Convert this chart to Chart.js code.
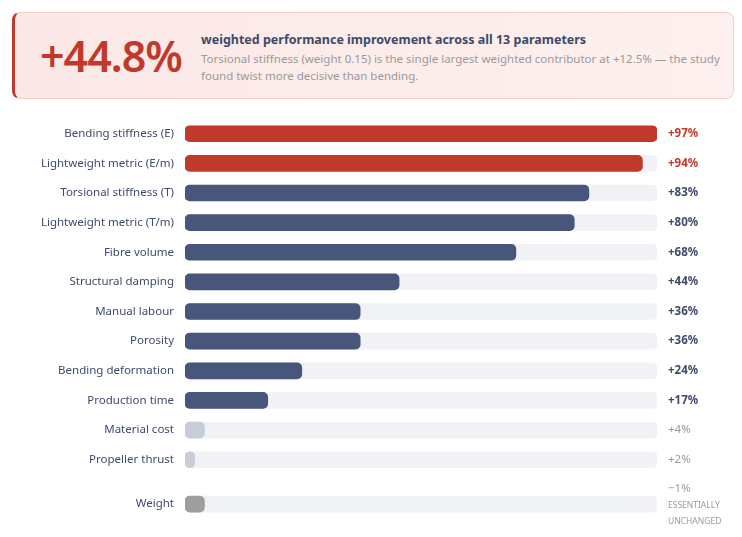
<!DOCTYPE html>
<html>
<head>
<meta charset="utf-8">
<script src="https://cdn.jsdelivr.net/npm/chart.js@4"></script>
<style>
  body { margin: 0; width: 742px; height: 537px; background: #fff; font-family: "Segoe UI", "Noto Sans", sans-serif; position: relative; overflow: hidden; }
  .card { position: absolute; left: 12px; top: 12px; width: 722px; height: 87px; box-sizing: border-box;
          background: linear-gradient(90deg, #fbe8e6 0%, #fdf0ee 100%); border: 1px solid #f3cfcb; border-left: 3px solid #c0392b; border-radius: 8px; }
  .big { position: absolute; left: 25px; top: 18px; font-size: 43px; color: #c0392b; letter-spacing: -1px; font-weight: 600; line-height: 50px; }
  .title { position: absolute; left: 186px; top: 18px; font-size: 12.5px; font-weight: 700; color: #3d4a6b; }
  .desc { position: absolute; left: 186px; top: 37px; width: 520px; font-size: 11.5px; color: #9a9a9a; line-height: 17px; }
  #wrap { position: absolute; left: 0; top: 101px; width: 742px; height: 436px; }
</style>
</head>
<body>
<div class="card">
  <div class="big">+44.8%</div>
  <div class="title">weighted performance improvement across all 13 parameters</div>
  <div class="desc">Torsional stiffness (weight 0.15) is the single largest weighted contributor at +12.5% — the study found twist more decisive than bending.</div>
</div>
<div id="wrap"><canvas id="chart"></canvas></div>
<script>
// parâmetros e ganhos (%)
const labels = ['Bending stiffness (E)', 'Lightweight metric (E/m)', 'Torsional stiffness (T)', 'Lightweight metric (T/m)',
  'Fibre volume', 'Structural damping', 'Manual labour', 'Porosity', 'Bending deformation', 'Production time',
  'Material cost', 'Propeller thrust', 'Weight'];
const values = [97, 94, 83, 80, 68, 44, 36, 36, 24, 17, 4, 2, -1];
const valueLabels = ['+97%', '+94%', '+83%', '+80%', '+68%', '+44%', '+36%', '+36%', '+24%', '+17%', '+4%', '+2%', '−1%'];
const groups = ['top', 'top', 'major', 'major', 'major', 'major', 'major', 'major', 'major', 'major', 'minor', 'minor', 'flat'];
const rowPos = [0, 1, 2, 3, 4, 5, 6, 7, 8, 9, 10, 11, 12.5];
const scaleMax = 97;
const flatMarker = 4; // largura do marcador "sem alteração"

const barColors = { top: '#c0392b', major: '#47567a', minor: '#c9cdd9', flat: '#9e9e9e' };
const textColors = { top: '#c0392b', major: '#3d4a6b', minor: '#9a9a9a', flat: '#9a9a9a' };

const barData = values.map((v, i) => ({ x: groups[i] === 'flat' ? flatMarker : v, y: rowPos[i] }));
const trackData = rowPos.map(p => ({ x: scaleMax, y: p }));

const valueLabelPlugin = {
    id: 'valueLabels',
    afterDatasetsDraw(chart) {
        const ctx = chart.ctx;
        const yScale = chart.scales.y;
        const x = chart.chartArea.right + 11;
        ctx.save();
        ctx.textAlign = 'left';
        ctx.textBaseline = 'middle';
        values.forEach((v, i) => {
            const y = yScale.getPixelForValue(rowPos[i]);
            const g = groups[i];
            ctx.fillStyle = textColors[g];
            ctx.font = (g === 'top' || g === 'major' ? 'bold ' : '') + '11.5px "Segoe UI", "Noto Sans", sans-serif';
            if (g === 'flat') {
                ctx.fillText(valueLabels[i], x, y - 15);
                ctx.font = '8.5px "Segoe UI", "Noto Sans", sans-serif';
                ctx.fillText('ESSENTIALLY', x, y + 1);
                ctx.fillText('UNCHANGED', x, y + 17);
            } else {
                ctx.fillText(valueLabels[i], x, y);
            }
        });
        ctx.restore();
    }
};

new Chart(document.getElementById('chart'), {
    type: 'bar',
    data: {
        datasets: [{
            data: barData,
            backgroundColor: groups.map(g => barColors[g]),
            borderRadius: 5,
            borderSkipped: false,
            barThickness: 16,
            order: 0
        }, {
            data: trackData,
            backgroundColor: '#f1f2f6',
            borderRadius: 5,
            borderSkipped: false,
            barThickness: 16,
            order: 1
        }]
    },
    options: {
        indexAxis: 'y',
        responsive: true,
        maintainAspectRatio: false,
        animation: false,
        layout: { padding: { top: 0, bottom: 18, right: 85, left: 0 } },
        datasets: { bar: { grouped: false } },
        plugins: { legend: { display: false }, tooltip: { enabled: false } },
        scales: {
            x: { display: false, min: 0, max: scaleMax },
            y: {
                type: 'linear',
                reverse: true,
                offset: false,
                min: -0.5,
                max: 13,
                grid: { display: false, drawTicks: false },
                border: { display: false },
                afterBuildTicks: axis => { axis.ticks = rowPos.map(p => ({ value: p })); },
                afterFit: axis => { axis.width = 185; },
                ticks: {
                    padding: 11,
                    color: '#3d4a6b',
                    font: { size: 11.5, family: '"Segoe UI", "Noto Sans", sans-serif' },
                    callback: (val, idx) => labels[idx]
                }
            }
        }
    },
    plugins: [valueLabelPlugin]
});
</script>
</body>
</html>
